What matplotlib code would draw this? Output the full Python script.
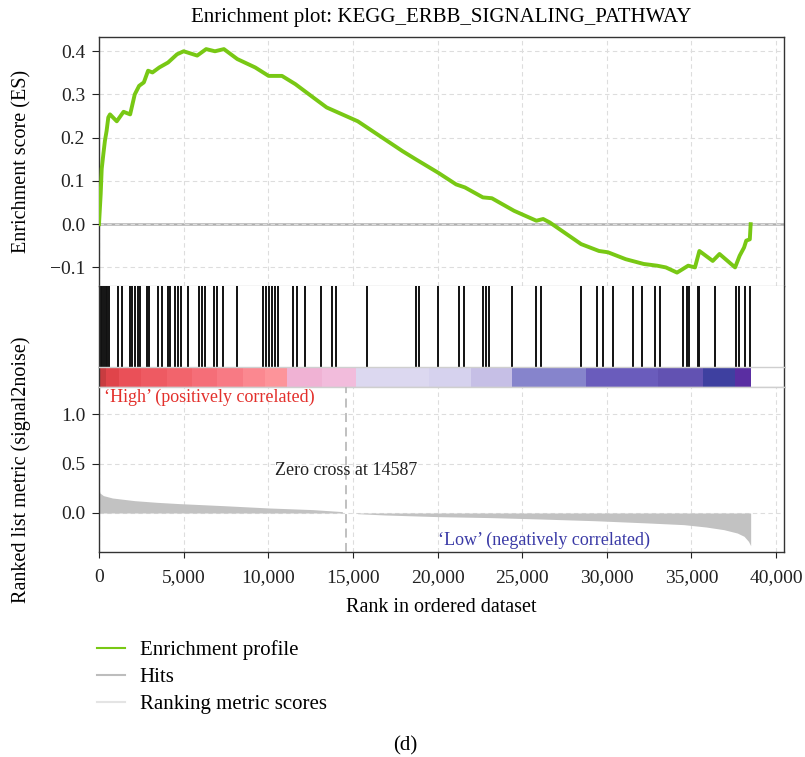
import matplotlib.pyplot as plt
from matplotlib.lines import Line2D

plt.rcParams['font.family'] = ['Liberation Serif', 'DejaVu Serif']

# running enrichment score (rank, ES)
es_rank = [0, 100, 160, 260, 350, 450, 550, 650, 1050, 1450, 1840, 2110, 2370,
           2650, 2900, 3160, 3560, 4080, 4610, 5000, 5800, 6330, 6850, 7380,
           8170, 9230, 10020, 10810, 11600, 12660, 13450, 15290, 17930, 18720,
           20040, 21100, 21620, 22680, 23210, 24520, 25840, 26240, 26630, 28480,
           29540, 30070, 31120, 32180, 32970, 33490, 34150, 34810, 35210, 35470,
           36260, 36660, 37580, 37850, 38110, 38240, 38450, 38500]
es_value = [0.0, 0.07, 0.128, 0.163, 0.193, 0.216, 0.247, 0.254, 0.238, 0.26,
            0.254, 0.30, 0.32, 0.328, 0.355, 0.351, 0.3625, 0.374, 0.393, 0.40,
            0.39, 0.405, 0.40, 0.405, 0.382, 0.3625, 0.343, 0.343, 0.324, 0.293,
            0.27, 0.238, 0.169, 0.15, 0.119, 0.092, 0.085, 0.062, 0.06, 0.031,
            0.008, 0.012, 0.004, -0.046, -0.062, -0.065, -0.081, -0.092, -0.096,
            -0.10, -0.112, -0.096, -0.10, -0.062, -0.085, -0.069, -0.10, -0.073,
            -0.054, -0.038, -0.035, 0.0]

# positions of pathway genes in the ranked list
hit_rank = [0, 100, 200, 300, 400, 500, 600, 1140, 1340, 1830, 1970, 2130, 2280,
            2420, 2820, 2950, 3500, 3700, 4060, 4200, 4490, 4650, 4850, 5280,
            5910, 6070, 6260, 6810, 6950, 7350, 8130, 9710, 9890, 10040, 10200,
            10400, 10600, 11480, 11680, 12170, 13120, 13750, 13990, 15830, 18730,
            18920, 20050, 21240, 21580, 22690, 22880, 23040, 24410, 25810, 26120,
            28500, 29420, 29770, 30350, 31540, 32060, 32860, 33120, 34520, 34720,
            34840, 35360, 35470, 36400, 37630, 37820, 38160, 38460]

# signal2noise ranking metric (rank, value)
metric_rank = [0, 50, 260, 790, 2100, 3420, 4740, 7380, 10020, 12660, 14370,
               14400, 15200, 15290, 16880, 20040, 23210, 26110, 29270, 32440,
               34550, 35870, 36920, 37710, 38110, 38370, 38500]
metric_value = [0.253, 0.203, 0.176, 0.152, 0.125, 0.108, 0.095, 0.074, 0.051,
                0.034, 0.014, 0.0, 0.0, -0.007, -0.02, -0.037, -0.047, -0.061,
                -0.078, -0.101, -0.118, -0.142, -0.169, -0.203, -0.236, -0.287,
                -0.331]

# heat band along the ranked list
band_edge = [0, 400, 1200, 2500, 4000, 5500, 7000, 8500, 9800, 11100, 13200,
             15200, 19500, 22000, 24400, 28800, 33000, 35700, 37600, 38500]
band_color = ['#c83c40', '#e0444a', '#ea5058', '#ee5a62', '#f2646c', '#f56e78',
              '#f87a84', '#fb8890', '#fd949a', '#f0b2d4', '#f2bcdc', '#dcd8f0',
              '#d6d2ee', '#c6bfe6', '#8684cc', '#6a5cbc', '#6252b2', '#3e40a0',
              '#5a2ea2']

zero_cross = 14587
x_ticks = [0, 5000, 10000, 15000, 20000, 25000, 30000, 35000, 40000]

GREEN = '#78c814'
DARK = '#333333'
LIGHT = '#cfcfcf'
GRID = dict(color='#dddddd', ls=(0, (4, 3)), lw=0.8)

fig = plt.figure(figsize=(8.05, 7.57), dpi=100)
L, W = 99 / 805, 685 / 805


def frac(top, bottom):
    return [L, 1 - bottom / 757, W, (bottom - top) / 757]


ax_es = fig.add_axes(frac(37, 286))
ax_hit = fig.add_axes(frac(286, 367), sharex=ax_es)
ax_bar = fig.add_axes(frac(367, 387), sharex=ax_es)
ax_rm = fig.add_axes(frac(387, 552), sharex=ax_es)

for ax in (ax_es, ax_hit, ax_bar, ax_rm):
    for s in ax.spines.values():
        s.set_color(DARK)
        s.set_linewidth(1.0)
    ax.tick_params(colors='#222222', labelsize=14, length=5, width=0.8, pad=5)

# enrichment score panel
ax_es.grid(True, **GRID)
ax_es.axhline(0, color='#b0b0b0', lw=1.8, zorder=1)
ax_es.plot(es_rank, es_value, color=GREEN, lw=2.8, zorder=3)
ax_es.set_xlim(0, 40470)
ax_es.set_ylim(-0.143, 0.433)
ax_es.set_yticks([-0.1, 0.0, 0.1, 0.2, 0.3, 0.4])
ax_es.set_yticklabels(['\u22120.1', '0.0', '0.1', '0.2', '0.3', '0.4'])
ax_es.tick_params(axis='x', bottom=False, labelbottom=False)
ax_es.spines['bottom'].set_color(LIGHT)
ax_es.set_ylabel('Enrichment score (ES)', fontsize=14.5)
ax_es.yaxis.set_label_coords(-0.099, 0.5)
ax_es.set_title('Enrichment plot: KEGG_ERBB_SIGNALING_PATHWAY',
                fontsize=15, pad=11)

# hits
ax_hit.vlines(hit_rank, 0, 1, color='#111111', lw=1.4)
ax_hit.set_ylim(0, 1)
ax_hit.set_yticks([])
ax_hit.tick_params(axis='x', bottom=False, labelbottom=False)
ax_hit.spines['top'].set_visible(False)
ax_hit.spines['bottom'].set_visible(False)

# colour band
for i in range(len(band_color)):
    ax_bar.axvspan(band_edge[i], band_edge[i + 1], color=band_color[i], lw=0)
ax_bar.set_ylim(0, 1)
ax_bar.set_yticks([])
ax_bar.tick_params(axis='x', bottom=False, labelbottom=False)
ax_bar.spines['top'].set_color(LIGHT)
ax_bar.spines['bottom'].set_color(LIGHT)

# ranked list metric
ax_rm.grid(True, **GRID)
ax_rm.fill_between(metric_rank, metric_value, 0, color='#c2c2c2', lw=0, zorder=2)
ax_rm.axvline(zero_cross, color='#bbbbbb', ls=(0, (5, 3)), lw=1.3, zorder=3)
ax_rm.set_ylim(-0.395, 1.276)
ax_rm.set_yticks([0.0, 0.5, 1.0])
ax_rm.set_yticklabels(['0.0', '0.5', '1.0'])
ax_rm.set_xticks(x_ticks)
ax_rm.set_xticklabels([f'{v:,}' for v in x_ticks])
ax_rm.tick_params(axis='x', length=4, pad=8)
ax_rm.spines['top'].set_color(LIGHT)
ax_rm.set_ylabel('Ranked list metric (signal2noise)', fontsize=14.5)
ax_rm.yaxis.set_label_coords(-0.099, 0.5)
ax_rm.set_xlabel('Rank in ordered dataset', fontsize=14.5, labelpad=9)

ax_rm.text(270, 1.176, '\u2018High\u2019 (positively correlated)', color='#e3302c',
           fontsize=13, ha='left', va='center')
ax_rm.text(20000, -0.272, '\u2018Low\u2019 (negatively correlated)', color='#3a3aa6',
           fontsize=13, ha='left', va='center')
ax_rm.text(zero_cross, 0.43, f'Zero cross at {zero_cross}', color='#222222',
           fontsize=13, ha='center', va='center')

handles = [Line2D([], [], color=GREEN, lw=1.5),
           Line2D([], [], color='#bdbdbd', lw=1.5),
           Line2D([], [], color='#e4e4e4', lw=1.5)]
fig.legend(handles, ['Enrichment profile', 'Hits', 'Ranking metric scores'],
           loc='upper left', bbox_to_anchor=(97 / 805, 1 - 640 / 757),
           frameon=False, fontsize=15, handlelength=1.35, handletextpad=0.7,
           labelspacing=0.36, borderpad=0, borderaxespad=0)

fig.text(405 / 805, 1 - 746 / 757, '(d)', ha='center', va='center', fontsize=15)

fig.savefig('out.png', dpi=100)
